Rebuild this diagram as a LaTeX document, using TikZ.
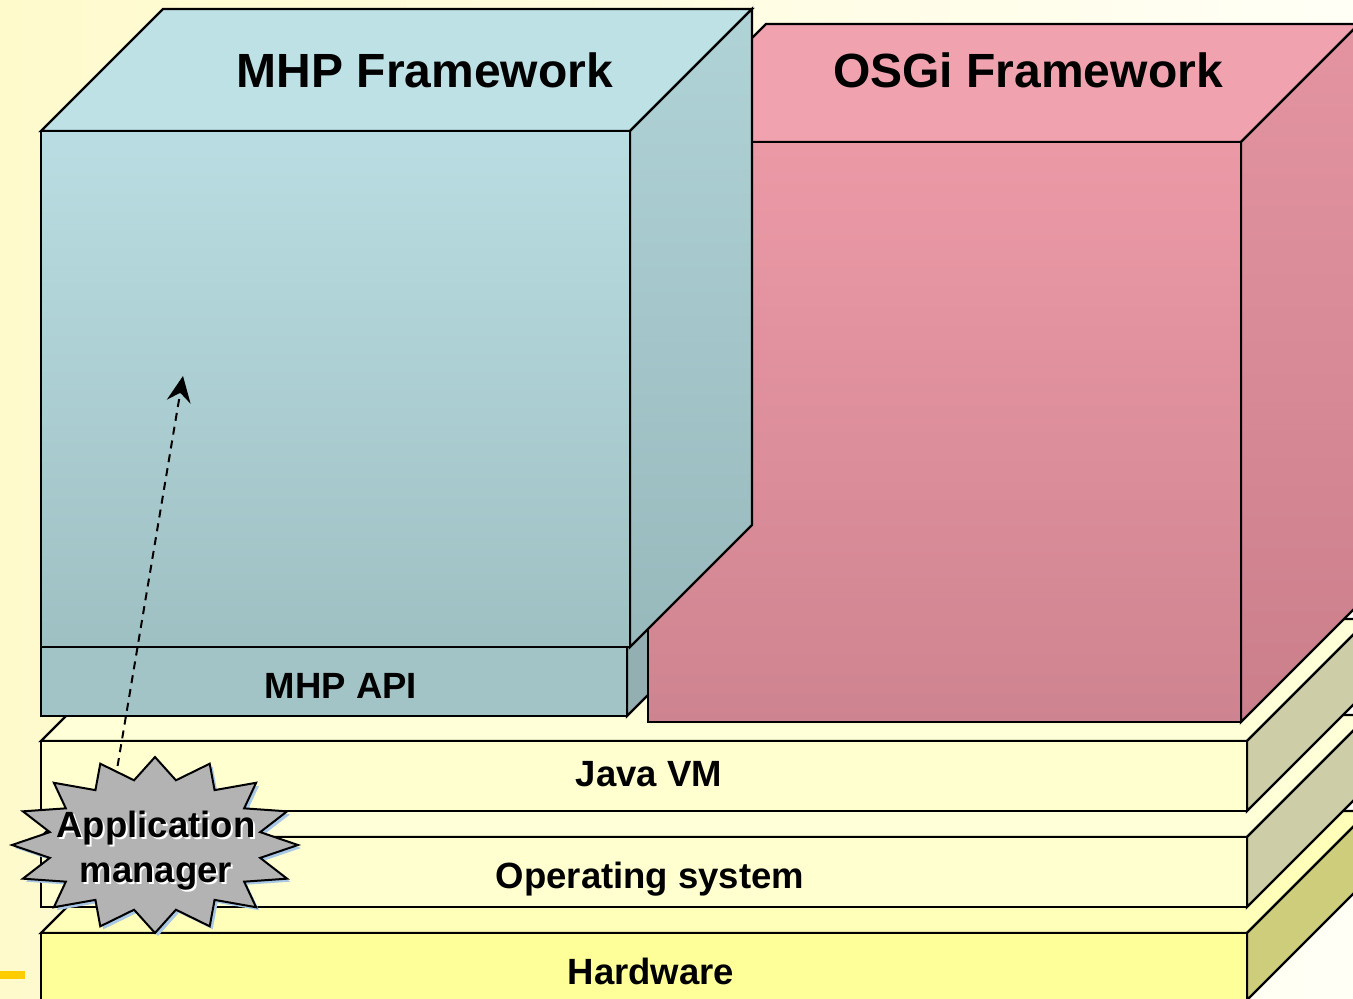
\documentclass[tikz,border=0pt]{standalone}
\usepackage{fontspec}
\setmainfont{Liberation Sans}
\usetikzlibrary{arrows.meta}
\definecolor{bgL}{HTML}{FFFACC}
\definecolor{bgR}{HTML}{FFFFF6}
\definecolor{mhpTop}{HTML}{BEE1E6}
\definecolor{mhpFT}{HTML}{B9DDE2}
\definecolor{mhpFB}{HTML}{9FC0C3}
\definecolor{mhpST}{HTML}{B0D3D8}
\definecolor{mhpSB}{HTML}{98B9BC}
\definecolor{apiF}{HTML}{A2C4C7}
\definecolor{apiS}{HTML}{93AFB2}
\definecolor{osgTop}{HTML}{F0A3AF}
\definecolor{osgFT}{HTML}{EC99A6}
\definecolor{osgFB}{HTML}{CE8490}
\definecolor{osgST}{HTML}{E494A1}
\definecolor{osgSB}{HTML}{CB7F8B}
\definecolor{lyF}{HTML}{FFFFD0}
\definecolor{lyT}{HTML}{FFFFD8}
\definecolor{lyS}{HTML}{CDCDA7}
\definecolor{hwF}{HTML}{FFFF99}
\definecolor{hwT}{HTML}{FFFFBA}
\definecolor{hwS}{HTML}{CDCD7B}
\definecolor{starF}{HTML}{B3B3B3}
\definecolor{starSh}{HTML}{A8C8E6}
\definecolor{barC}{HTML}{FFCC00}
\begin{document}
\begin{tikzpicture}[x=1pt,y=-1pt,
  edge/.style={draw=black,line width=2.4pt},
  lbl/.style={font=\fontsize{36.5}{40}\selectfont\bfseries,anchor=base,inner sep=0pt},
  ttl/.style={font=\fontsize{48}{52}\selectfont\bfseries,anchor=base,inner sep=0pt},
  dasharrow/.style={draw=black,line width=2pt,dash pattern=on 8pt off 6pt,
    -{Stealth[length=26pt,width=24pt,inset=9pt]}}]
\useasboundingbox (0,0) rectangle (1353,999);
% background
\shade[left color=bgL,right color=bgR] (0,0) rectangle (1353,999);
\fill[barC] (0,971) rectangle (25,979);
% Hardware layer
\fill[hwT,edge] (41,933) -- (163,811) -- (1369,811) -- (1247,933) -- cycle;
\fill[hwS,edge] (1247,933) -- (1369,811) -- (1369,878) -- (1247,1000) -- cycle;
\fill[hwF,edge] (41,933) rectangle (1247,1000);
% Operating system layer
\fill[lyT,edge] (41,837) -- (163,715) -- (1369,715) -- (1247,837) -- cycle;
\fill[lyS,edge] (1247,837) -- (1369,715) -- (1369,785) -- (1247,907) -- cycle;
\fill[lyF,edge] (41,837) rectangle (1247,907);
% Java VM layer
\fill[lyT,edge] (41,741) -- (163,619) -- (1369,619) -- (1247,741) -- cycle;
\fill[lyS,edge] (1247,741) -- (1369,619) -- (1369,689) -- (1247,811) -- cycle;
\fill[lyF,edge] (41,741) rectangle (1247,811);
% MHP API box
\fill[apiS,edge] (627,647) -- (749,525) -- (749,594) -- (627,716) -- cycle;
\fill[apiF,edge] (41,647) rectangle (627,716);
% OSGi framework box
\fill[osgTop,edge] (648,142) -- (766,24) -- (1359,24) -- (1241,142) -- cycle;
\path[edge,top color=osgST,bottom color=osgSB] (1241,142) -- (1359,24) -- (1359,604) -- (1241,722) -- cycle;
\path[edge,top color=osgFT,bottom color=osgFB] (648,142) rectangle (1241,722);
% MHP framework box
\fill[mhpTop,edge] (41,131) -- (163,9) -- (752,9) -- (630,131) -- cycle;
\path[edge,top color=mhpST,bottom color=mhpSB] (630,131) -- (752,9) -- (752,525) -- (630,647) -- cycle;
\path[edge,top color=mhpFT,bottom color=mhpFB] (41,131) rectangle (630,647);
% dashed arrow
\coordinate (arrstart) at (106,835);
\coordinate (arrtip) at (183,376);
\draw[dasharrow] (arrstart) -- (arrtip);
% starburst
\begin{scope}[shift={(158,848)},x=143pt,y=88pt]
\fill[starSh] (90:1) \foreach \i [evaluate=\i as \r using {mod(\i,2)==0 ? 1 : 0.75}] in {1,...,31} { -- (90+\i*11.25:\r) } -- cycle;
\end{scope}
\begin{scope}[shift={(155,845)},x=143pt,y=88pt]
\fill[starF,draw=black,line width=2pt] (90:1) \foreach \i [evaluate=\i as \r using {mod(\i,2)==0 ? 1 : 0.75}] in {1,...,31} { -- (90+\i*11.25:\r) } -- cycle;
\end{scope}
% labels
\node[ttl] (mhpT) at (425,87) {MHP Framework};
\node[ttl] (osgT) at (1028,87) {OSGi Framework};
\node[lbl] (apiT) at (341,698) {MHP API};
\node[lbl] (jvmT) at (649,786) {Java VM};
\node[lbl] (osT) at (650,888) {Operating system};
\node[lbl] (hwT) at (651,984) {Hardware};
\node[lbl,anchor=center,align=center,text=white] (amSh) at (158,853) {Application\\[5pt]manager};
\node[lbl,anchor=center,align=center] (am) at (156,851) {Application\\[5pt]manager};
\end{tikzpicture}
\end{document}
